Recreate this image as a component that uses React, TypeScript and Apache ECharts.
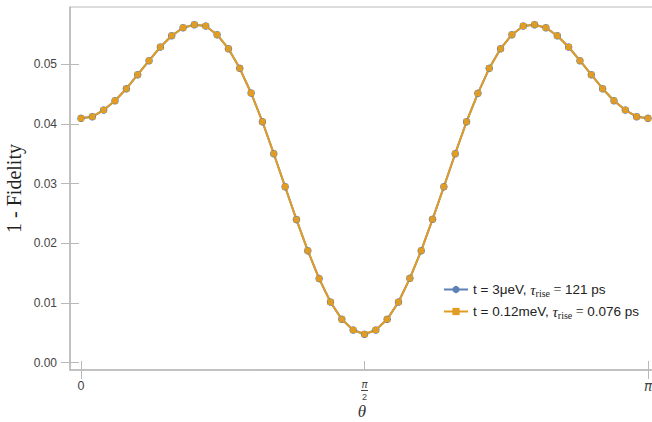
import React, { useEffect, useRef } from "react";
import * as echarts from "echarts";

// θ in units of π
const thetaOverPi = [
  0, 0.02, 0.04, 0.06, 0.08, 0.1, 0.12, 0.14, 0.16, 0.18, 0.2, 0.22, 0.24, 0.26,
  0.28, 0.3, 0.32, 0.34, 0.36, 0.38, 0.4, 0.42, 0.44, 0.46, 0.48, 0.5, 0.52,
  0.54, 0.56, 0.58, 0.6, 0.62, 0.64, 0.66, 0.68, 0.7, 0.72, 0.74, 0.76, 0.78,
  0.8, 0.82, 0.84, 0.86, 0.88, 0.9, 0.92, 0.94, 0.96, 0.98, 1,
];

// 1 - Fidelity, t = 3 μeV
const infidelitySlow = [
  0.04095, 0.04122, 0.04234, 0.0439, 0.04591, 0.04826, 0.0506, 0.0529, 0.05479,
  0.05613, 0.05664, 0.05642, 0.05496, 0.05261, 0.04933, 0.04519, 0.04038,
  0.03502, 0.02949, 0.02398, 0.01877, 0.01409, 0.01017, 0.00727, 0.00548,
  0.00478, 0.00548, 0.00727, 0.01017, 0.01414, 0.01877, 0.02403, 0.02949,
  0.03502, 0.04038, 0.04514, 0.04933, 0.05261, 0.05496, 0.05642, 0.05664,
  0.05613, 0.05479, 0.0529, 0.0506, 0.04826, 0.04591, 0.0439, 0.04234, 0.04122,
  0.04095,
];

// 1 - Fidelity, t = 0.12 meV
const infidelityFast = [
  0.04095, 0.04122, 0.04234, 0.0439, 0.04591, 0.04826, 0.0506, 0.0529, 0.05479,
  0.05613, 0.05664, 0.05642, 0.05496, 0.05261, 0.04933, 0.04519, 0.04038,
  0.03502, 0.02949, 0.02398, 0.01877, 0.01409, 0.01017, 0.00727, 0.00548,
  0.00478, 0.00548, 0.00727, 0.01017, 0.01414, 0.01877, 0.02403, 0.02949,
  0.03502, 0.04038, 0.04514, 0.04933, 0.05261, 0.05496, 0.05642, 0.05664,
  0.05613, 0.05479, 0.0529, 0.0506, 0.04826, 0.04591, 0.0439, 0.04234, 0.04122,
  0.04095,
];

const xTicks = [0, 0.5, 1];
const yTicks = [0, 0.01, 0.02, 0.03, 0.04, 0.05];

const seriesNames = ["t = 3μeV, τrise = 121 ps", "t = 0.12meV, τrise = 0.076 ps"];
const legendParts = [
  ["t = 3μeV, ", "121 ps"],
  ["t = 0.12meV, ", "0.076 ps"],
];

const BLUE = "#5E81B5";
const ORANGE = "#E19C24";
const FRAME = "#b9b9b9";
const TEXT = "#444";

export default function App() {
  const ref = useRef<HTMLDivElement>(null);
  useEffect(() => {
    if (!ref.current) return;
    const chart = echarts.init(ref.current, null, { renderer: "svg" });
    const xMin = -0.0194;
    const xMax = 1.0106;
    const yMin = -0.00122;
    const yMax = 0.0596;
    const sans = "Liberation Sans";
    chart.setOption({
      animation: false,
      grid: {
        left: 70,
        top: 7,
        right: -2,
        bottom: 52,
        show: true,
        borderColor: FRAME,
        borderWidth: 1,
        outerBoundsMode: "none",
        containLabel: false,
      },
      legend: {
        orient: "vertical",
        left: 438,
        top: 277,
        itemWidth: 24,
        itemHeight: 9,
        itemGap: 6,
        data: seriesNames,
        formatter: (name: string) => {
          const idx = seriesNames.indexOf(name);
          const p = legendParts[idx];
          return `{a|${p[0]}}{tau|τ}{sub|rise}{eq| = }{a|${p[1]}}`;
        },
        textStyle: {
          rich: {
            a: { fontFamily: sans, fontSize: 13.5, color: "#222", lineHeight: 17 },
            tau: {
              fontFamily: "Liberation Serif",
              fontStyle: "italic",
              fontSize: 15,
              color: "#222",
              lineHeight: 17,
            },
            sub: {
              fontFamily: "Liberation Serif",
              fontSize: 10,
              color: "#222",
              lineHeight: 17,
              verticalAlign: "bottom",
              padding: [5, 0, 0, 0],
            },
            eq: { fontFamily: "Liberation Serif", fontSize: 14, color: "#222", lineHeight: 17 },
          },
        },
      },
      xAxis: [
        {
          type: "value",
          min: xMin,
          max: xMax,
          position: "bottom",
          splitLine: { show: false },
          axisLine: { show: true, onZero: false, lineStyle: { color: FRAME, width: 1.5 } },
          axisTick: {
            show: true,
            length: 9,
            customValues: [0, 1],
            lineStyle: { color: FRAME, width: 1 },
          },
          axisLabel: {
            customValues: xTicks,
            margin: 9,
            color: TEXT,
            fontFamily: sans,
            fontSize: 12,
            formatter: (v: number) => {
              if (Math.abs(v) < 1e-9) return "{z|0}";
              if (Math.abs(v - 0.5) < 1e-9) return "{n|π}\n{bar| }\n{d|2}";
              return "{p|π}";
            },
            rich: {
              z: { fontFamily: sans, fontSize: 12.5, color: TEXT, lineHeight: 14 },
              p: {
                fontFamily: "DejaVu Sans",
                fontStyle: "italic",
                fontSize: 13.5,
                color: TEXT,
                lineHeight: 14,
              },
              n: {
                fontFamily: "DejaVu Sans",
                fontStyle: "italic",
                fontSize: 10,
                color: TEXT,
                lineHeight: 10,
                align: "center",
              },
              bar: {
                width: 7,
                height: 1,
                lineHeight: 3,
                backgroundColor: TEXT,
                fontSize: 1,
                align: "center",
              },
              d: { fontFamily: sans, fontSize: 9, color: TEXT, lineHeight: 9, align: "center" },
            },
          },
          name: "θ",
          nameLocation: "middle",
          nameGap: 34,
          nameMoveOverlap: false,
          nameTextStyle: {
            fontFamily: "Liberation Serif",
            fontStyle: "italic",
            fontSize: 17,
            color: "#333",
            lineHeight: 15,
          },
        },
        {
          type: "value",
          min: xMin,
          max: xMax,
          position: "bottom",
          splitLine: { show: false },
          axisLine: { show: false, onZero: false },
          axisTick: {
            show: true,
            inside: true,
            length: 9,
            customValues: xTicks,
            lineStyle: { color: FRAME, width: 1 },
          },
          axisLabel: { show: false },
        },
      ],
      yAxis: [
        {
          type: "value",
          min: yMin,
          max: yMax,
          position: "left",
          splitLine: { show: false },
          axisLine: { show: true, onZero: false, lineStyle: { color: FRAME, width: 1.5 } },
          axisTick: {
            show: true,
            length: 9,
            customValues: yTicks,
            lineStyle: { color: FRAME, width: 1 },
          },
          axisLabel: {
            customValues: yTicks,
            margin: 13,
            color: TEXT,
            fontFamily: sans,
            fontSize: 12,
            formatter: (v: number) => v.toFixed(2),
          },
          name: "1 - Fidelity",
          nameLocation: "middle",
          nameGap: 46,
          nameMoveOverlap: false,
          nameTextStyle: {
            fontFamily: "Liberation Serif",
            fontSize: 20,
            color: "#222",
          },
        },
        {
          type: "value",
          min: yMin,
          max: yMax,
          position: "left",
          splitLine: { show: false },
          axisLine: { show: false, onZero: false },
          axisTick: {
            show: true,
            inside: true,
            length: 9,
            customValues: yTicks,
            lineStyle: { color: FRAME, width: 1 },
          },
          axisLabel: { show: false },
        },
      ],
      series: [
        {
          name: seriesNames[0],
          type: "line",
          data: thetaOverPi.map((x, i) => [x, infidelitySlow[i]]),
          symbol: "circle",
          symbolSize: 7.5,
          showAllSymbol: true,
          lineStyle: { color: BLUE, width: 2 },
          itemStyle: { color: BLUE },
        },
        {
          name: seriesNames[1],
          type: "line",
          data: thetaOverPi.map((x, i) => [x, infidelityFast[i]]),
          symbol: "rect",
          symbolSize: 6,
          showAllSymbol: true,
          lineStyle: { color: ORANGE, width: 2 },
          itemStyle: { color: ORANGE },
        },
      ],
    });
    return () => chart.dispose();
  }, []);
  return (
    <div
      ref={ref}
      style={{ position: "absolute", left: 0, top: 0, width: 652, height: 422, background: "#fff" }}
    />
  );
}
